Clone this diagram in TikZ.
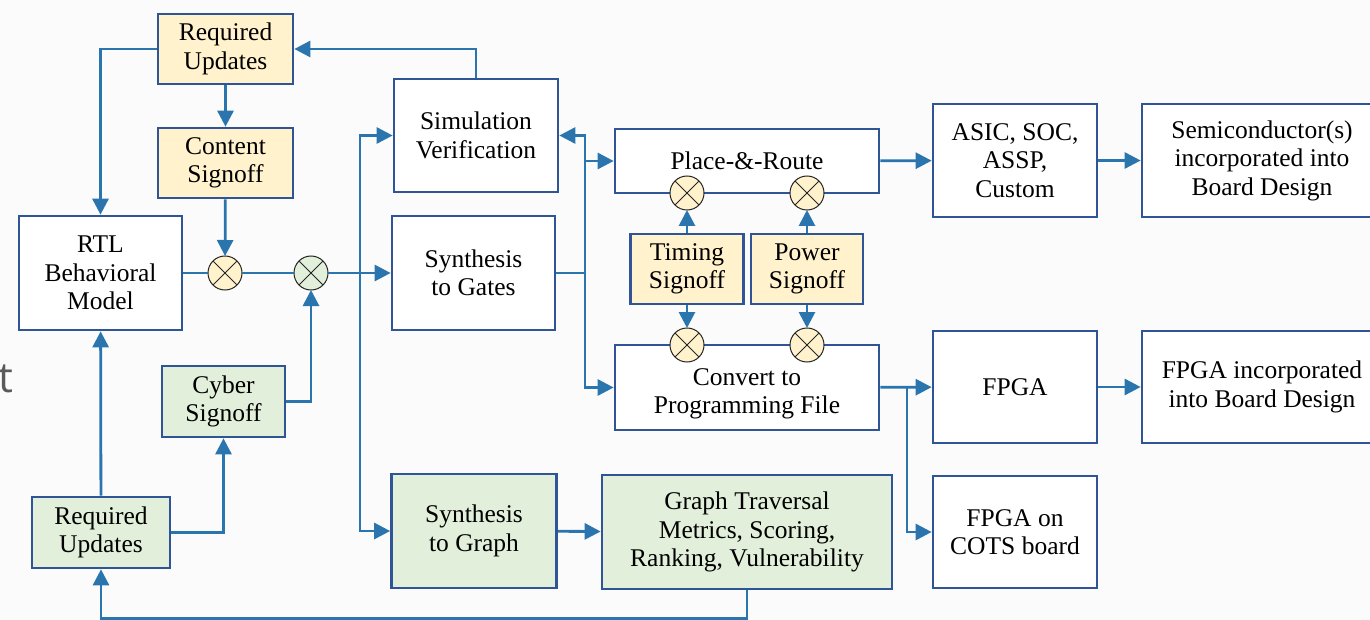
\documentclass[tikz,border=0pt]{standalone}
\usepackage{fontspec}
\setmainfont{Liberation Serif}
\newfontfamily\sidefont{Open Sans}
\usetikzlibrary{arrows.meta}
\definecolor{bg}{HTML}{FBFBFC}
\definecolor{edge}{HTML}{2F5597}
\definecolor{wire}{HTML}{2A75AD}
\definecolor{sigY}{HTML}{FFF2CC}
\definecolor{sigG}{HTML}{E2EFDA}
\definecolor{ghost}{HTML}{5A5A5A}

\begin{document}
\begin{tikzpicture}[x=1pt,y=-1pt,
  blk/.style={draw=edge, line width=2.7pt, fill=white, align=center,
    inner sep=0pt, text=black, font=\fontsize{25.5}{28.5}\selectfont},
  ysig/.style={blk, fill=sigY},
  gsig/.style={blk, fill=sigG},
  caption/.style={align=center, inner sep=0pt, text=black,
    font=\fontsize{25.5}{28.5}\selectfont},
  mix/.style={circle, draw=black!85, line width=1pt, minimum size=34pt,
    inner sep=0pt, outer sep=0pt},
  wireline/.style={draw=wire, line width=2.8pt},
  flow/.style={wireline, -{Triangle[length=16pt,width=16pt]}}
]
\useasboundingbox (0,0) rectangle (1370,620);
\clip (0,0) rectangle (1370,620);
\fill[bg] (0,0) rectangle (1370,620);

% stray letter at the left margin
\node[anchor=base west, inner sep=0pt, text=ghost, font=\sidefont\fontsize{42}{42}\selectfont] (ghostt) at (-2,392) {t};

% left column
\node[ysig, minimum width=135pt, minimum height=70pt] (rqT) at (225.5,49) {Required\\Updates};
\node[ysig, minimum width=135pt, minimum height=70pt] (cs) at (225.5,163) {Content\\Signoff};
\node[blk, minimum width=163pt, minimum height=114pt] (rtl) at (100.5,273) {RTL\\Behavioral\\Model};
\node[gsig, minimum width=123pt, minimum height=71pt] (cy) at (223.5,401.5) {Cyber\\Signoff};
\node[gsig, minimum width=138pt, minimum height=71pt] (rqB) at (101,532.5) {Required\\Updates};

% middle column
\node[blk, minimum width=164pt, minimum height=113pt] (sim) at (476,135.5) {Simulation\\Verification};
\node[blk, minimum width=163pt, minimum height=114pt] (sg) at (473.5,273) {Synthesis\\to Gates};
\node[gsig, minimum width=165pt, minimum height=114pt] (sgr) at (474,531) {Synthesis\\to Graph};
\node[gsig, minimum width=290pt, minimum height=114pt] (gt) at (747,532) {Graph Traversal\\Metrics, Scoring,\\Ranking, Vulnerability};

% implementation column
\node[blk, minimum width=264pt, minimum height=64pt] (pr) at (747,161) {Place-\&-Route};
\node[ysig, minimum width=113pt, minimum height=70pt] (ts) at (687,269) {Timing\\Signoff};
\node[ysig, minimum width=112pt, minimum height=70pt] (ps) at (807,269) {Power\\Signoff};
\node[blk, minimum width=264pt, minimum height=85pt] (cv) at (747,387.5) {};

% targets
\node[blk, minimum width=164pt, minimum height=113pt] (asic) at (1015,160.5) {ASIC, SOC,\\ASSP,\\Custom};
\node[blk, minimum width=240pt, minimum height=113pt] (semi) at (1262,160.5) {Semiconductor(s)\\incorporated into\\Board Design};
\node[blk, minimum width=164pt, minimum height=112pt] (fpga) at (1015,387) {FPGA};
\node[blk, minimum width=240pt, minimum height=112pt] (fpgaInc) at (1262,387) {FPGA incorporated\\into Board Design};
\node[blk, minimum width=164pt, minimum height=112pt] (cots) at (1015,532) {FPGA on\\COTS board};

% mixing points
\node[mix, fill=sigY] (m1) at (225,273) {};
\node[mix, fill=sigG] (m2) at (311,273) {};
\node[mix, fill=sigY] (m3) at (687,193) {};
\node[mix, fill=sigY] (m4) at (807,193) {};
\node[mix, fill=sigY] (m5) at (687,345) {};
\node[mix, fill=sigY] (m6) at (807,345) {};
\foreach \m in {m1,m2,m3,m4,m5,m6}
  \draw[black!85, line width=1pt] (\m.north east) -- (\m.south west)
                                  (\m.north west) -- (\m.south east);

% the convert box text sits below the two mixing points on its top edge
\node[caption] (cvtext) at (747,394) {Convert to\\Programming File};

% junction points on the buses
\coordinate (busL) at (360,273);
\coordinate (busR) at (585,273);
\coordinate (fork) at (907,387);

% update / signoff loop
\draw[flow] (rqT) -- (cs);
\draw[flow] (rqT.west) -| (rtl.north);
\draw[flow] (cs) -- (m1);
\draw[wireline] (rtl) -- (m1);
\draw[wireline] (m1) -- (m2);
\draw[flow] (m2) -- (sg);
\draw[flow] (busL) |- (sim.west);
\draw[flow] (busL) |- (sgr.west);
\draw[flow] (sim.north) |- (rqT.east);

% gate-level flow
\draw[wireline] (sg) -- (busR);
\draw[flow] (busR) |- (sim.east);
\draw[flow] (busR) |- (pr.west);
\draw[flow] (busR) |- (cv.west);
\draw[flow] (ts) -- (m3);
\draw[flow] (ts) -- (m5);
\draw[flow] (ps) -- (m4);
\draw[flow] (ps) -- (m6);
\draw[flow] (pr) -- (asic);
\draw[flow] (asic) -- (semi);
\draw[flow] (cv) -- (fpga);
\draw[flow] (fork) |- (cots.west);
\draw[flow] (fpga) -- (fpgaInc);

% graph analysis loop
\draw[flow] (sgr) -- (gt);
\draw[flow] (gt.south) -- ++(0,28.5) -| (rqB.south);
\draw[flow] (rqB) -- (rtl);
\draw[flow] (rqB.east) -| (cy.south);
\draw[flow] (cy.east) -| (m2.south);
\end{tikzpicture}
\end{document}
